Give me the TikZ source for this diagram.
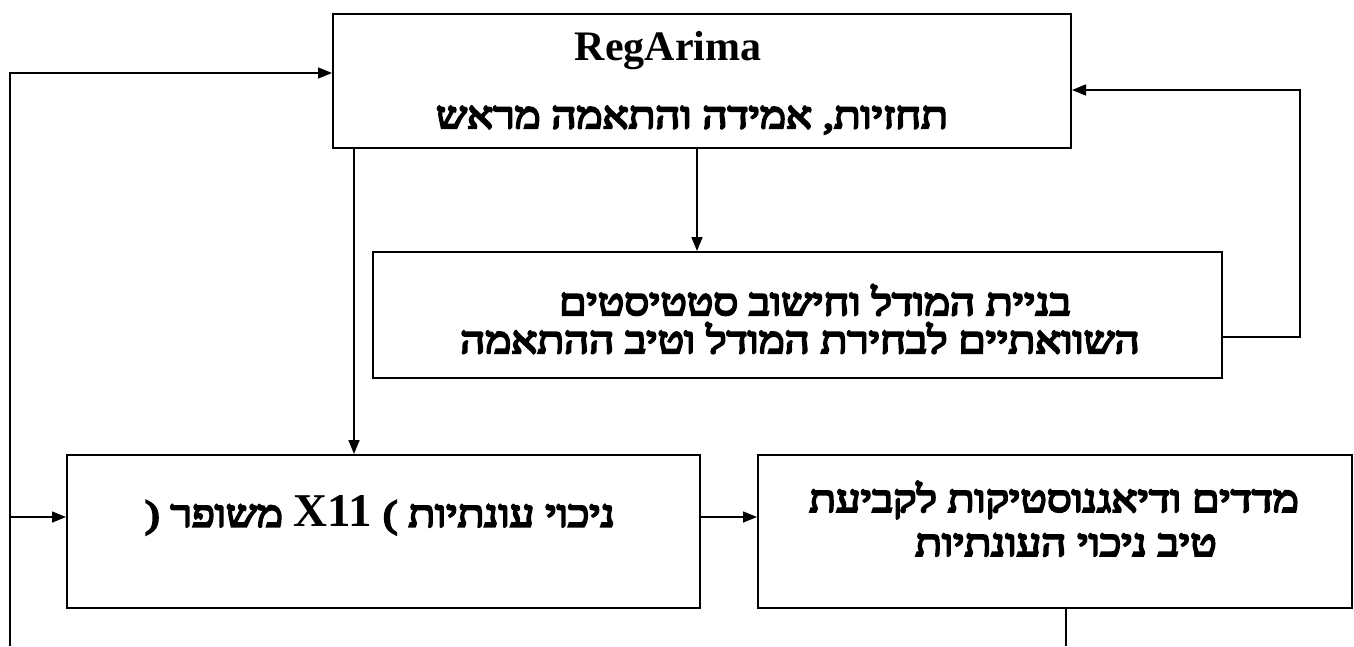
\documentclass[tikz,border=0pt]{standalone}
\usepackage{fontspec}
\setmainfont{Liberation Serif}
\newfontfamily\heb[Script=Hebrew, FakeBold=6, FakeStretch=1.18]{Liberation Serif}
\TeXXeTstate=1
\usetikzlibrary{arrows.meta,calc}
\tikzset{
  box/.style={draw, line width=2pt, rectangle, inner sep=0pt},
  htext/.style={inner sep=0pt, font=\heb\fontsize{37}{42}\selectfont},
  conn/.style={line width=1.5pt},
  arr/.style={line width=1.5pt, -{Triangle[length=14pt,width=11pt]}},
}
\begin{document}
\begin{tikzpicture}[x=1pt,y=1pt]
\useasboundingbox (0,0) rectangle (1354,-646);
% boxes
\node[box, minimum width=738pt, minimum height=134pt] (A) at (702,-81) {};
\node[box, minimum width=849pt, minimum height=126pt] (B) at (797.5,-315) {};
\node[box, minimum width=633pt, minimum height=153pt] (C) at (383.5,-531.5) {};
\node[box, minimum width=594pt, minimum height=153pt] (D) at (1055,-531.5) {};
% texts
\node[inner sep=0pt, font=\bfseries\fontsize{42}{45}\selectfont] (tA1) at (668,-51) {RegArima};
\node[htext] (tA2) at (692,-120) {\beginR תחזיות, אמידה והתאמה מראש\endR};
\node[htext] (tB1) at (815,-300) {\beginR בניית המודל וחישוב סטטיסטים\endR};
\node[htext] (tB2) at (800,-338) {\beginR השוואתיים לבחירת המודל וטיב ההתאמה\endR};
\node[htext] (tC) at (380,-515) {( {\beginR משופר\endR} {\rmfamily\bfseries\fontsize{47}{47}\selectfont X11} ) {\beginR ניכוי עונתיות\endR}};
\node[htext] (tD1) at (1054,-500) {\beginR מדדים ודיאגנוסטיקות לקביעת\endR};
\node[htext] (tD2) at (1066,-545) {\beginR טיב ניכוי העונתיות\endR};
% connector coordinates
\coordinate (lb) at (10,-646);
\coordinate (lt) at (10,-73);
\coordinate (lc) at (10,-517);
\coordinate (rt) at (1300,-90);
\coordinate (rb) at (1300,-337);
\coordinate (db) at (1066,-646);
% connectors
\draw[arr] (lb) -- (lt) -- (A.west |- lt);
\draw[arr] (lc) -- (C.west |- lc);
\draw[arr] (A.south -| 354,0) -- (C.north -| 354,0);
\draw[arr] (A.south -| 697,0) -- (B.north -| 697,0);
\draw[arr] (B.east |- rb) -- (rb) -- (rt) -- (A.east |- rt);
\draw[arr] (C.east |- lc) -- (D.west |- lc);
\draw[conn] (D.south -| db) -- (db);
\end{tikzpicture}
\end{document}
